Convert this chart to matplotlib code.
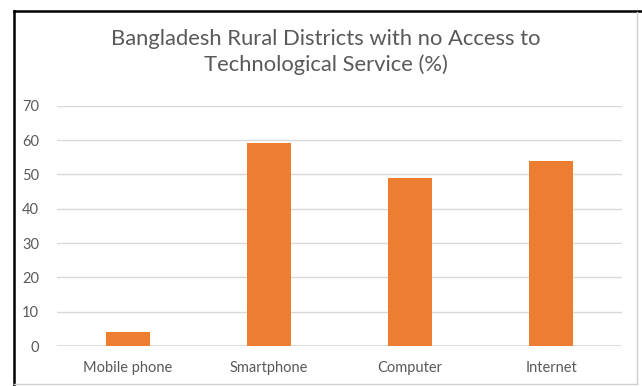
import matplotlib
matplotlib.use("Agg")
import matplotlib.pyplot as plt
from matplotlib.lines import Line2D

categories = ["Mobile phone", "Smartphone", "Computer", "Internet"]
values = [4, 59, 49, 54]
yticks = [0, 10, 20, 30, 40, 50, 60, 70]
title = "Bangladesh Rural Districts with no Access to\nTechnological Service (%)"

plt.rcParams['font.family'] = ['Lato', 'DejaVu Sans']

W, H = 642, 386
fig = plt.figure(figsize=(W / 100, H / 100), dpi=100)
fig.patch.set_facecolor("white")

# chart frame
fig.add_artist(Line2D([14 / W, 14 / W], [0, 1 - 11 / H], transform=fig.transFigure, color="black", lw=1.8))
fig.add_artist(Line2D([14 / W, 1], [1 - 11 / H, 1 - 11 / H], transform=fig.transFigure, color="black", lw=1.8))
fig.add_artist(Line2D([637 / W, 637 / W], [2 / H, 1 - 12 / H], transform=fig.transFigure, color="#d0d0d0", lw=1))
fig.add_artist(Line2D([14 / W, 637 / W], [2 / H, 2 / H], transform=fig.transFigure, color="#d0d0d0", lw=1))

ax = fig.add_axes([57 / W, 1 - 346 / H, (622 - 57) / W, (346 - 105.7) / H])
x = range(len(categories))
ax.bar(x, values, width=0.31, color="#ED7D31", zorder=3)
ax.set_xlim(-0.5, len(categories) - 0.5)
ax.set_ylim(0, 70)
ax.set_yticks(yticks)
ax.set_xticks(list(x))
ax.set_xticklabels(categories)
for s in ax.spines.values():
    s.set_visible(False)
ax.grid(axis="y", color="#d9d9d9", lw=1, zorder=0)
ax.axhline(0, color="#d9d9d9", lw=1.2, zorder=2)
ax.tick_params(axis="both", length=0, colors="#595959", labelsize=10.5)
ax.tick_params(axis="y", pad=13)
ax.tick_params(axis="x", pad=11)

fig.text(0.5 * (14 + 637) / W, 1 - 52 / H, title, ha="center", va="center",
         fontsize=15.8, color="#595959", linespacing=1.3)

fig.savefig("out.png", dpi=100)
